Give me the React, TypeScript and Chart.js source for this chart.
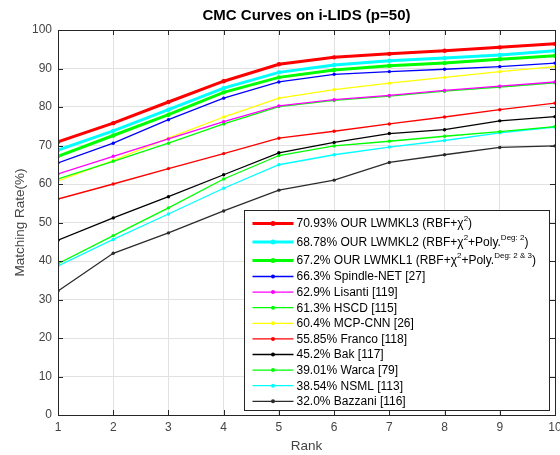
import React, { useEffect, useRef } from "react";
import { Chart, registerables } from "chart.js";

Chart.register(...registerables);

const FONT = '"Liberation Sans", Arial, Helvetica, sans-serif';

const ranks = [1, 2, 3, 4, 5, 6, 7, 8, 9, 10];
const lwmkl3 = [70.93, 75.8, 81.3, 86.7, 91.1, 92.9, 93.8, 94.6, 95.5, 96.4];
const lwmkl2 = [68.78, 73.8, 79.3, 84.9, 89.0, 90.9, 92.0, 92.7, 93.5, 94.6];
const lwmkl1 = [67.2, 72.6, 78.0, 83.8, 87.7, 89.6, 90.7, 91.4, 92.4, 93.3];
const spindleNet = [65.5, 70.6, 76.7, 82.3, 86.5, 88.5, 89.2, 89.8, 90.5, 91.4];
const lisanti = [62.6, 67.2, 71.7, 76.2, 80.3, 81.9, 83.0, 84.3, 85.4, 86.5];
const hscd = [61.3, 65.9, 70.6, 75.6, 80.1, 81.7, 82.8, 84.1, 85.2, 86.3];
const mcpCnn = [60.8, 66.1, 71.9, 77.4, 82.3, 84.5, 86.2, 87.7, 89.2, 90.5];
const franco = [56.1, 60.0, 64.0, 67.9, 71.9, 73.7, 75.6, 77.4, 79.3, 81.0];
const bak = [45.4, 51.2, 56.7, 62.4, 68.1, 70.8, 73.1, 74.1, 76.4, 77.5];
const warca = [39.3, 46.6, 53.8, 61.3, 67.4, 69.9, 71.1, 72.4, 73.6, 74.9];
const nsml = [38.7, 45.6, 52.2, 58.9, 65.0, 67.6, 69.6, 71.3, 73.3, 74.8];
const bazzani = [32.2, 42.0, 47.3, 53.0, 58.4, 61.0, 65.6, 67.6, 69.5, 69.9];

const seriesLabels = [
  "70.93% OUR LWMKL3 (RBF+χ^{2})",
  "68.78% OUR LWMKL2 (RBF+χ^{2}+Poly.^{Deg: 2})",
  "67.2% OUR LWMKL1 (RBF+χ^{2}+Poly.^{Deg: 2 & 3})",
  "66.3% Spindle-NET [27]",
  "62.9% Lisanti [119]",
  "61.3% HSCD [115]",
  "60.4% MCP-CNN [26]",
  "55.85% Franco [118]",
  "45.2% Bak [117]",
  "39.01% Warca [79]",
  "38.54% NSML [113]",
  "32.0% Bazzani [116]",
];
const seriesData = [lwmkl3, lwmkl2, lwmkl1, spindleNet, lisanti, hscd, mcpCnn, franco, bak, warca, nsml, bazzani];
const seriesColors = ["#ff0000", "#00ffff", "#00ff00", "#0000ff", "#ff00ff", "#00ff00", "#ffff00", "#ff0000", "#000000", "#00ff00", "#00ffff", "#2b2b2b"];
const seriesWidths = [3, 3, 3, 1.3, 1.3, 1.3, 1.3, 1.3, 1.3, 1.3, 1.3, 1.3];

const yTickStep = 10;
const titleText = "CMC Curves on i-LIDS (p=50)";
const xTitle = "Rank";
const yTitle = "Matching Rate(%)";

const AXIS_COLOR = "#262626";
const TEXT_COLOR = "#444444";

function drawRich(ctx: CanvasRenderingContext2D, text: string, x: number, y: number) {
  const parts = text.split(/(\^\{[^}]*\})/).filter((p) => p.length > 0);
  let cx = x;
  for (const p of parts) {
    if (p.startsWith("^{")) {
      const s = p.slice(2, -1);
      ctx.font = `8px ${FONT}`;
      ctx.fillText(s, cx, y - 5);
      cx += ctx.measureText(s).width;
    } else {
      ctx.font = `12px ${FONT}`;
      ctx.fillText(p, cx, y);
      cx += ctx.measureText(p).width;
    }
  }
}

const framePlugin = {
  id: "framePlugin",
  afterDraw(chart: any) {
    const { ctx, chartArea } = chart;
    const { left, right, top, bottom } = chartArea;
    const xs = chart.scales.x;
    const ys = chart.scales.y;
    ctx.save();
    ctx.strokeStyle = AXIS_COLOR;
    ctx.lineWidth = 1;
    ctx.beginPath();
    for (const t of xs.ticks) {
      const px = Math.round(xs.getPixelForValue(t.value)) + 0.5;
      ctx.moveTo(px, bottom);
      ctx.lineTo(px, bottom - 5);
      ctx.moveTo(px, top);
      ctx.lineTo(px, top + 5);
    }
    for (const t of ys.ticks) {
      const py = Math.round(ys.getPixelForValue(t.value)) + 0.5;
      ctx.moveTo(left, py);
      ctx.lineTo(left + 5, py);
      ctx.moveTo(right, py);
      ctx.lineTo(right - 5, py);
    }
    ctx.stroke();
    ctx.strokeRect(Math.round(left) + 0.5, Math.round(top) + 0.5, Math.round(right - left), Math.round(bottom - top));

    // legend
    const lx0 = Math.round(left + 186) + 0.5;
    const lx1 = Math.round(right - 6) + 0.5;
    const ly0 = Math.round(top + 180) + 0.5;
    const ly1 = Math.round(bottom - 5) + 0.5;
    ctx.fillStyle = "#ffffff";
    ctx.fillRect(lx0, ly0, lx1 - lx0, ly1 - ly0);
    ctx.strokeStyle = AXIS_COLOR;
    ctx.lineWidth = 1;
    ctx.strokeRect(lx0, ly0, lx1 - lx0, ly1 - ly0);
    const rowY = (i: number) => {
      if (i === 0) return ly0 + 13;
      if (i === 1) return ly0 + 31.5;
      if (i === 2) return ly0 + 50;
      return ly0 + 66 + (i - 3) * 15.6;
    };
    ctx.textBaseline = "middle";
    ctx.textAlign = "left";
    chart.data.datasets.forEach((ds: any, i: number) => {
      const y = rowY(i);
      const sx0 = lx0 + 8;
      const sx1 = lx0 + 49;
      ctx.strokeStyle = ds.borderColor;
      ctx.lineWidth = ds.borderWidth;
      ctx.beginPath();
      ctx.moveTo(sx0, y);
      ctx.lineTo(sx1, y);
      ctx.stroke();
      ctx.fillStyle = ds.borderColor;
      ctx.beginPath();
      ctx.arc((sx0 + sx1) / 2, y, ds.borderWidth > 2 ? 2.5 : 2, 0, Math.PI * 2);
      ctx.fill();
      ctx.fillStyle = "#000000";
      drawRich(ctx, ds.label, lx0 + 52, y + 0.5);
    });
    ctx.restore();
  },
};

export default function App() {
  const canvasRef = useRef<HTMLCanvasElement | null>(null);

  useEffect(() => {
    const canvas = canvasRef.current;
    if (!canvas) return;
    const datasets = seriesData.map((d, i) => ({
      label: seriesLabels[i],
      data: ranks.map((r, j) => ({ x: r, y: d[j] })),
      borderColor: seriesColors[i],
      backgroundColor: seriesColors[i],
      borderWidth: seriesWidths[i],
      pointRadius: seriesWidths[i] > 2 ? 2.2 : 1.7,
      pointBorderWidth: 0,
      pointBackgroundColor: seriesColors[i],
      tension: 0,
      fill: false,
    }));
    const chart = new Chart(canvas, {
      type: "line",
      data: { datasets },
      plugins: [framePlugin],
      options: {
        responsive: false,
        animation: false,
        events: [],
        layout: { padding: 0 },
        plugins: {
          legend: { display: false },
          tooltip: { enabled: false },
          title: {
            display: true,
            text: titleText,
            color: "#000000",
            fullSize: false,
            font: { family: FONT, size: 15, weight: "bold" },
            padding: { top: 7, bottom: 5 },
          },
        },
        scales: {
          x: {
            type: "linear",
            min: 1,
            max: 10,
            ticks: {
              stepSize: 1,
              color: TEXT_COLOR,
              font: { family: FONT, size: 12 },
              padding: 5,
              autoSkip: false,
              maxRotation: 0,
            },
            grid: { color: "#e2e2e2", drawTicks: false, lineWidth: 1 },
            border: { display: false },
            title: {
              display: true,
              text: xTitle,
              color: TEXT_COLOR,
              font: { family: FONT, size: 13.5 },
              padding: { top: 0, bottom: 1 },
            },
            afterFit(s: any) {
              s.height = 40;
              s.paddingRight = 5;
              s.paddingLeft = 0;
            },
          },
          y: {
            type: "linear",
            min: 0,
            max: 100,
            ticks: {
              stepSize: yTickStep,
              color: TEXT_COLOR,
              font: { family: FONT, size: 12 },
              padding: 6,
            },
            grid: { color: "#e2e2e2", drawTicks: false, lineWidth: 1 },
            border: { display: false },
            title: {
              display: true,
              text: yTitle,
              color: TEXT_COLOR,
              font: { family: FONT, size: 13.5 },
              padding: { top: 12, bottom: 0 },
            },
            afterFit(s: any) {
              s.width = 58;
              s.paddingTop = 0;
              s.paddingBottom = 0;
            },
          },
        },
      } as any,
    });
    return () => chart.destroy();
  }, []);

  return (
    <div style={{ position: "absolute", left: 0, top: 0, width: 560, height: 455, background: "#ffffff" }}>
      <canvas ref={canvasRef} width={560} height={455} style={{ width: 560, height: 455, display: "block" }} />
    </div>
  );
}
